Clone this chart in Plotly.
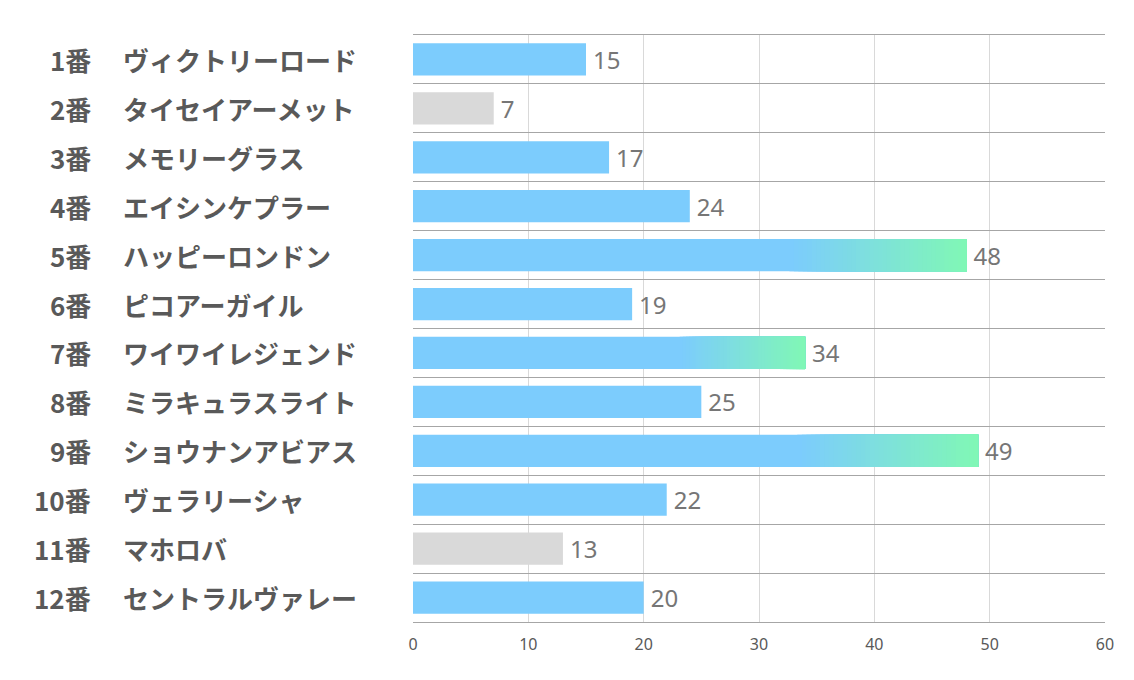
import plotly.graph_objects as go

# Data
numbers = ["1番", "2番", "3番", "4番", "5番", "6番", "7番", "8番", "9番", "10番", "11番", "12番"]
names = ["ヴィクトリーロード", "タイセイアーメット", "メモリーグラス", "エイシンケプラー",
         "ハッピーロンドン", "ピコアーガイル", "ワイワイレジェンド", "ミラキュラスライト",
         "ショウナンアビアス", "ヴェラリーシャ", "マホロバ", "セントラルヴァレー"]
values = [15, 7, 17, 24, 48, 19, 34, 25, 49, 22, 13, 20]
grey_rows = ["2番", "11番"]
gradient_rows = ["5番", "7番", "9番"]
x_ticks = [0, 10, 20, 30, 40, 50, 60]

BLUE = (124, 204, 253)
GREEN = (128, 247, 182)
GREY = (217, 217, 217)
GRAD_START = 0.68
N_SEG = 40


def rgb(c):
    return "rgb(%d,%d,%d)" % c


def mix(a, b, t):
    return tuple(round(a[i] + (b[i] - a[i]) * t) for i in range(3))


fig = go.Figure()

# full-length bars (gradient rows get their tail painted over below)
fig.add_trace(go.Bar(
    y=numbers, x=values, orientation="h", width=0.66,
    marker=dict(color=[rgb(GREY) if n in grey_rows else rgb(BLUE) for n in numbers],
                line=dict(width=0)),
    text=["\u2009" + str(v) for v in values], textposition="outside", constraintext="none",
    textfont=dict(family="Noto Sans", size=24, color="#767676"),
    cliponaxis=False, hoverinfo="skip", showlegend=False,
))

# gradient tail: each slice runs to the bar end, later slices cover earlier ones
g_rows = [n for n in numbers if n in gradient_rows]
g_vals = [values[numbers.index(n)] for n in g_rows]
for k in range(N_SEG):
    t = k / (N_SEG - 1)
    base = [v * GRAD_START + v * (1 - GRAD_START) * k / N_SEG for v in g_vals]
    fig.add_trace(go.Bar(
        y=g_rows, x=[v - b for v, b in zip(g_vals, base)], base=base,
        orientation="h", width=0.66,
        marker=dict(color=rgb(mix(BLUE, GREEN, t)), line=dict(width=0)),
        hoverinfo="skip", showlegend=False,
    ))

# left-hand labels
for n, name in zip(numbers, names):
    fig.add_annotation(x=-0.4624, y=n, xref="paper", yref="y", text=n,
                       showarrow=False, xanchor="right",
                       font=dict(family="Noto Sans CJK JP", size=26, color="#595959", weight="bold"))
    fig.add_annotation(x=-0.422, y=n, xref="paper", yref="y", text=name,
                       showarrow=False, xanchor="left",
                       font=dict(family="Noto Sans CJK JP", size=26, color="#595959", weight="bold"))

# the page body adds an 8px margin, so the figure is 8px smaller and margins shifted
fig.update_layout(
    width=1126, height=672,
    margin=dict(l=405, r=29, t=27, b=58),
    barmode="overlay",
    plot_bgcolor="white", paper_bgcolor="white",
    xaxis=dict(range=[0, 60], tickvals=x_ticks, showgrid=True, gridcolor="#d9d9d9", gridwidth=1,
               zeroline=False, showline=True, linecolor="#a6a6a6", mirror=True,
               ticks="outside", ticklen=8, tickcolor="rgba(0,0,0,0)",
               tickfont=dict(family="Noto Sans", size=16, color="#595959")),
    yaxis=dict(type="category", categoryorder="array", categoryarray=numbers,
               range=[11.5, -0.5], tickson="boundaries", showgrid=True,
               gridcolor="#a6a6a6", gridwidth=1, showticklabels=False, ticks="",
               zeroline=False),
)

fig.write_html("out.html")
